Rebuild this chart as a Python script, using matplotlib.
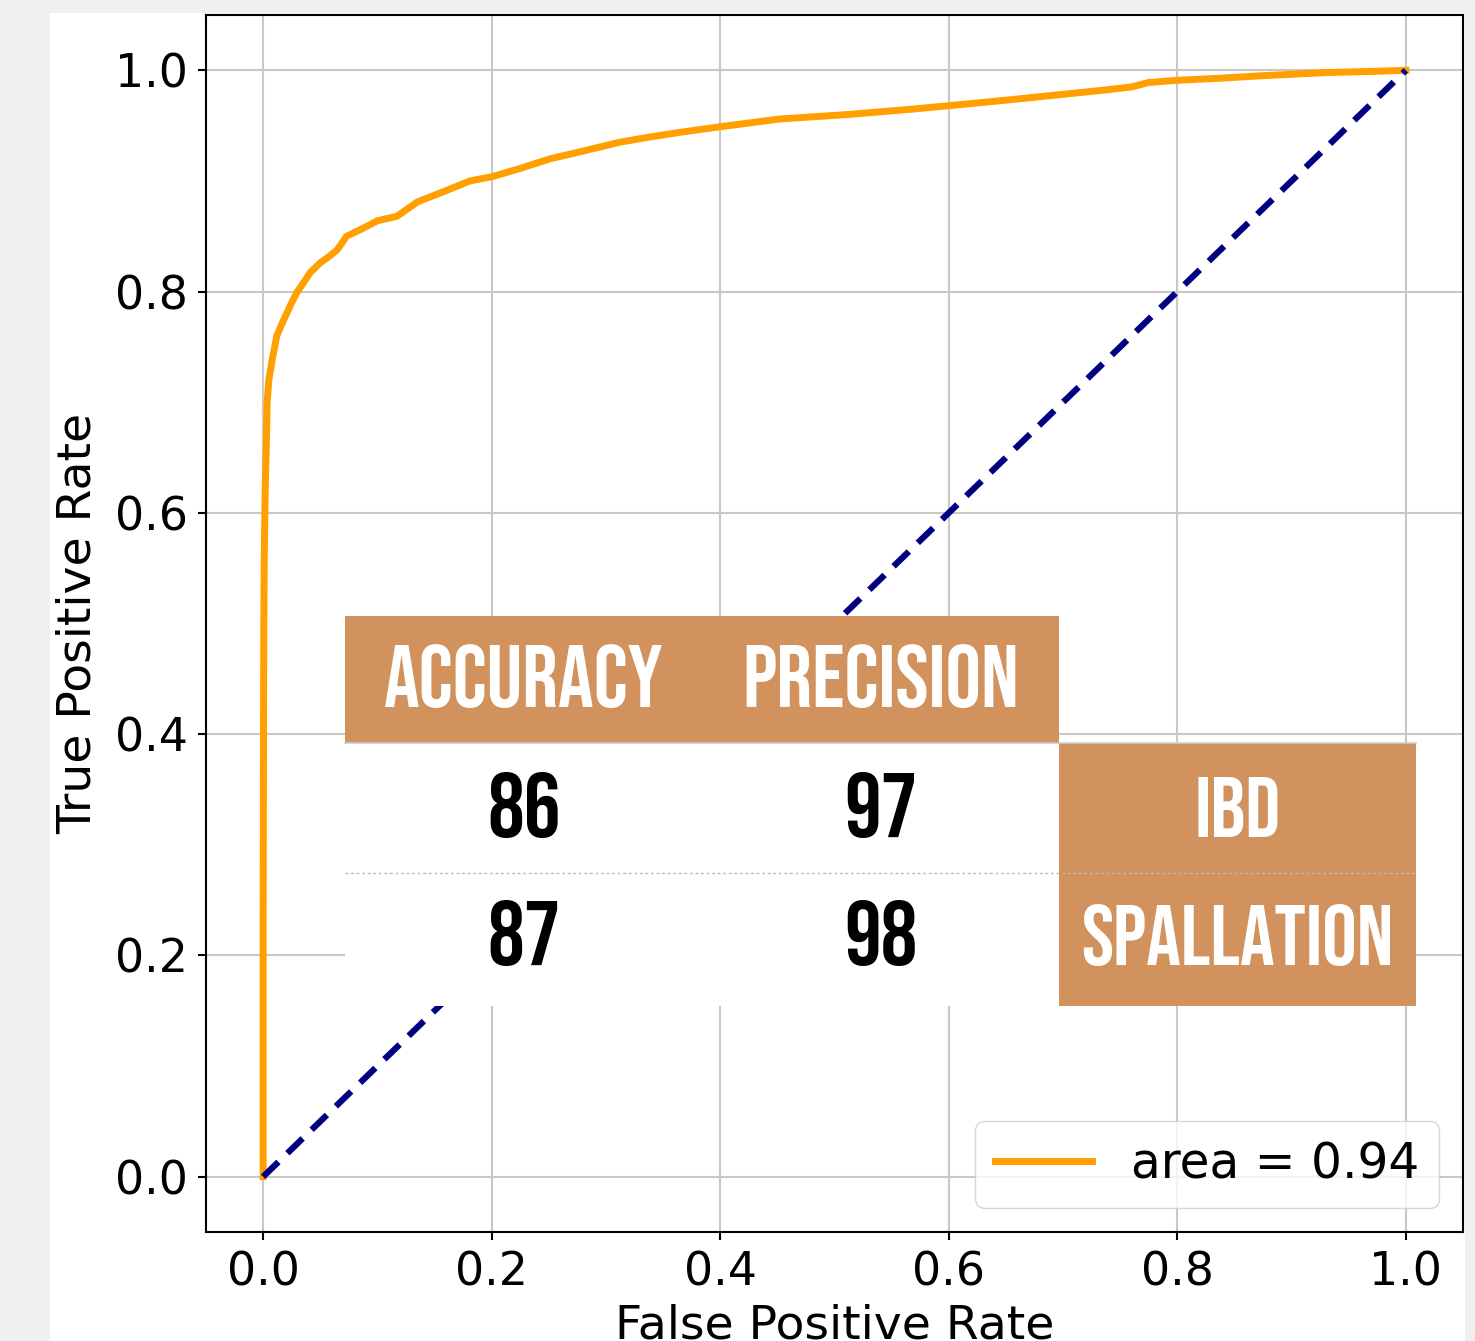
import matplotlib
matplotlib.use("Agg")
import matplotlib.pyplot as plt
from matplotlib.patches import Rectangle

# --- Data ---
fpr = [0.0, 0.0, 0.0003, 0.0006, 0.001, 0.0015, 0.002, 0.003, 0.0035, 0.005,
       0.008, 0.012, 0.016, 0.021, 0.025, 0.030, 0.036, 0.041, 0.050, 0.058,
       0.065, 0.073, 0.085, 0.100, 0.117, 0.135, 0.157, 0.181, 0.201, 0.227,
       0.251, 0.280, 0.312, 0.340, 0.365, 0.400, 0.452, 0.511, 0.569, 0.610,
       0.650, 0.697, 0.735, 0.760, 0.775, 0.800, 0.840, 0.872, 0.931, 0.970, 1.0]
tpr = [0.0, 0.20, 0.40, 0.50, 0.56, 0.60, 0.63, 0.67, 0.70, 0.72,
       0.739, 0.760, 0.770, 0.781, 0.790, 0.800, 0.809, 0.817, 0.826, 0.832,
       0.838, 0.850, 0.856, 0.864, 0.868, 0.881, 0.890, 0.900, 0.904, 0.912,
       0.920, 0.927, 0.935, 0.940, 0.944, 0.949, 0.956, 0.960, 0.965, 0.969,
       0.973, 0.978, 0.982, 0.985, 0.989, 0.991, 0.993, 0.995, 0.998, 0.999, 1.0]
chance = [0.0, 1.0]
roc_area = 0.94

metric_names = ["ACCURACY", "PRECISION"]
event_types = ["IBD", "SPALLATION"]
accuracy = [86, 87]
precision = [97, 98]

# --- Styling ---
ORANGE = "#FF9F00"
NAVY = "#000080"
BROWN = "#D1925E"
GRID = "#C8C8C8"
TABLE_FONT = ["Bebas Neue", "Oswald", "Anton", "DejaVu Sans"]

W, H = 1475, 1341
fig = plt.figure(figsize=(W / 100, H / 100), dpi=100, facecolor="#F0F0F0")
fig.add_artist(Rectangle((50 / W, 0), 1415 / W, 1328 / H, transform=fig.transFigure,
                         facecolor="white", edgecolor="none", zorder=-10))

ax = fig.add_axes([206 / W, 1 - 1232 / H, (1463 - 206) / W, (1232 - 15) / H])
ax.set_facecolor("white")
for s in ax.spines.values():
    s.set_linewidth(1.5)

ax.plot(fpr, tpr, color=ORANGE, lw=5, label=f"area = {roc_area:.2f}", zorder=3)
ax.plot(chance, chance, color=NAVY, lw=4.5, linestyle=(0, (3.4, 2.0)), zorder=3)

ax.set_xlim(-0.05, 1.05)
ax.set_ylim(-0.05, 1.05)
ticks = [0.0, 0.2, 0.4, 0.6, 0.8, 1.0]
ax.set_xticks(ticks)
ax.set_yticks(ticks)
ax.tick_params(labelsize=33, length=6, width=1.5, pad=7)
ax.grid(True, color=GRID, lw=1.5)
ax.set_axisbelow(True)
ax.set_xlabel("False Positive Rate", fontsize=34, labelpad=6)
ax.set_ylabel("True Positive Rate", fontsize=34, labelpad=10)
ax.legend(loc="lower right", fontsize=35)

# --- Overlay table (drawn in data coords, over the plot) ---
x0, x1, x2 = 0.0717, 0.6964, 1.0087
y_top, y_head, y_mid, y_bot = 0.5068, 0.3921, 0.2746, 0.1545
ax.add_patch(Rectangle((x0, y_head), x1 - x0, y_top - y_head, facecolor=BROWN,
                       edgecolor="none", zorder=10, clip_on=False))
ax.add_patch(Rectangle((x0, y_bot), x1 - x0, y_head - y_bot, facecolor="white",
                       edgecolor="none", zorder=10, clip_on=False))
ax.add_patch(Rectangle((x1, y_bot), x2 - x1, y_head - y_bot, facecolor=BROWN,
                       edgecolor="none", zorder=10, clip_on=False))
ax.plot([x0, x2], [y_head, y_head], color="#CCCCCC", lw=1.2, zorder=11, clip_on=False)
ax.plot([x0, x2], [y_mid, y_mid], color="#BBBBBB", lw=1.0, ls=(0, (2, 2)),
        zorder=11, clip_on=False)

col_x = [0.2283, 0.5407]
side_x = 0.8526
for cx, name in zip(col_x, metric_names):
    ax.text(cx, 0.4246, name, ha="center", va="baseline", fontsize=64,
            color="white", family=TABLE_FONT, zorder=12)
row_base = [0.3071, 0.1915]
for i, yb in enumerate(row_base):
    for cx, vals in zip(col_x, [accuracy, precision]):
        ax.text(cx, yb, str(vals[i]), ha="center", va="baseline", fontsize=66,
                fontweight="bold", color="black", family=TABLE_FONT, zorder=12)
    ax.text(side_x, yb, event_types[i], ha="center", va="baseline", fontsize=62,
            color="white", family=TABLE_FONT, zorder=12)

fig.savefig("out.png", dpi=100, facecolor=fig.get_facecolor())
